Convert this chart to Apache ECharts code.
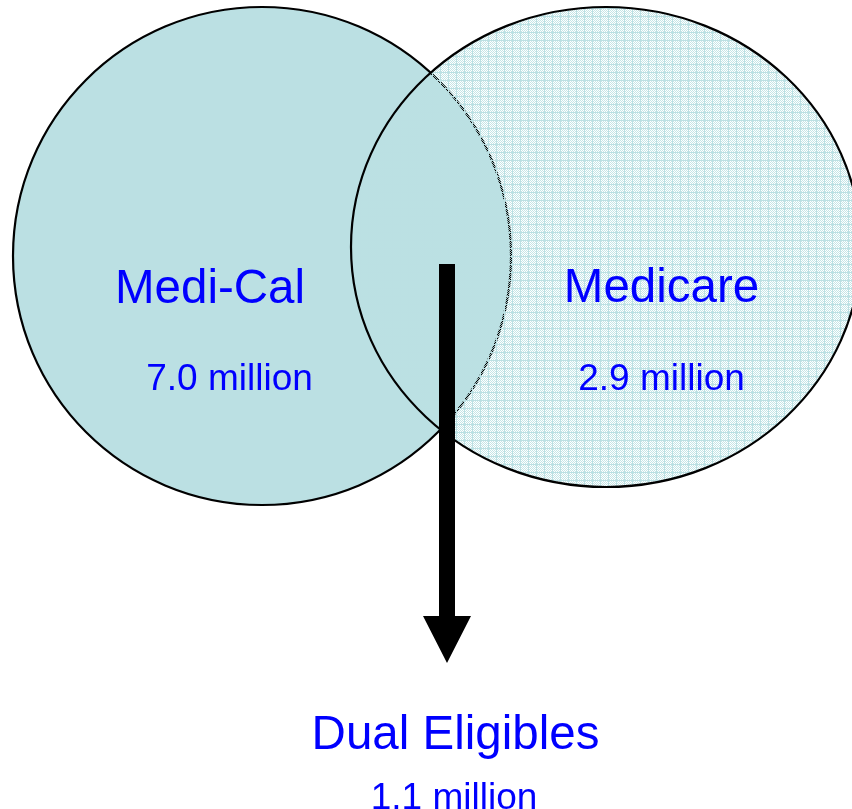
<!DOCTYPE html>
<html>
<head>
<meta charset="utf-8">
<script src="https://cdn.jsdelivr.net/npm/echarts@6/dist/echarts.min.js"></script>
<style>
html,body{margin:0;padding:0;background:#fff;}
#chart{width:852px;height:809px;}
</style>
</head>
<body>
<div id="chart"></div>
<script>
// ---- data ----
const setNames = ['Medi-Cal', 'Medicare'];
const setValues = [7.0, 2.9];
const overlapName = 'Dual Eligibles';
const overlapValue = 1.1;
const unitLabel = 'million';

// ---- layout (canvas units, kept apart from the data) ----
const W = 852, H = 809;
const circleLayout = [
  { cx: 262, cy: 256, rx: 249, ry: 249 },
  { cx: 606, cy: 247, rx: 255, ry: 240 }
];
const nameLayout = [[210, 290], [661.5, 289]];
const valueLayout = [[229.5, 379.5], [661.5, 379.5]];
const overlapNamePos = [455.5, 736];
const overlapValuePos = [454, 798.5];
const arrowLayout = { x: 447, top: 264, shaftHalf: 8, headTop: 616, headHalf: 24, tip: 663 };

const TEAL = '#BBE0E3';
const TEXT_BLUE = '#0000FF';
const FONT = '"Liberation Sans", Arial, sans-serif';

// pattern fill for the second set
function makePattern() {
  const c = document.createElement('canvas');
  c.width = 8; c.height = 8;
  const ctx = c.getContext('2d');
  for (let y = 0; y < 8; y++) {
    for (let x = 0; x < 8; x++) {
      if (x === 0 || y === 0) {
        ctx.fillStyle = 'rgba(187,224,227,1)';
        ctx.fillRect(x, y, 1, 1);
      } else if ((x + y) % 2 === 0) {
        ctx.fillStyle = 'rgba(187,224,227,0.85)';
        ctx.fillRect(x, y, 1, 1);
      }
    }
  }
  return c;
}
const patternCanvas = makePattern();

const chart = echarts.init(document.getElementById('chart'), null, { renderer: 'canvas' });

function fmt(v) { return v.toFixed(1) + ' ' + unitLabel; }

const seriesData = setNames.map((n, i) => ({ name: n, value: [i, setValues[i]] }));
seriesData.push({ name: overlapName, value: [2, overlapValue] });

function renderItem(params, api) {
  const idx = api.value(0);
  if (idx < 2) {
    const L = circleLayout[idx];
    const c = api.coord([L.cx, L.cy]);
    const s = api.size([L.rx, L.ry]);
    return {
      type: 'ellipse',
      shape: { cx: c[0], cy: c[1], rx: Math.abs(s[0]), ry: Math.abs(s[1]) },
      style: {
        fill: idx === 0 ? TEAL : { image: patternCanvas, repeat: 'repeat' },
        stroke: '#000',
        lineWidth: 2.2
      },
      z2: idx
    };
  }
  const A = arrowLayout;
  const pts = [
    [A.x - A.shaftHalf, A.top], [A.x + A.shaftHalf, A.top],
    [A.x + A.shaftHalf, A.headTop], [A.x + A.headHalf, A.headTop],
    [A.x, A.tip], [A.x - A.headHalf, A.headTop], [A.x - A.shaftHalf, A.headTop]
  ].map(p => api.coord(p));
  return {
    type: 'polygon',
    shape: { points: pts },
    style: { fill: '#000' },
    z2: 5
  };
}

function renderLabels(params, api) {
  const idx = api.value(0);
  const v = api.value(1);
  let np, vp, name;
  if (idx < 2) { np = nameLayout[idx]; vp = valueLayout[idx]; name = setNames[idx]; }
  else { np = overlapNamePos; vp = overlapValuePos; name = overlapName; }
  const a = api.coord(np), b = api.coord(vp);
  return {
    type: 'group',
    children: [
      { type: 'text', style: { text: name, x: a[0], y: a[1], fill: TEXT_BLUE, font: '47.5px ' + FONT, align: 'center', verticalAlign: 'middle' } },
      { type: 'text', style: { text: fmt(v), x: b[0], y: b[1], fill: TEXT_BLUE, font: '37px ' + FONT, align: 'center', verticalAlign: 'middle' } }
    ]
  };
}

chart.setOption({
  animation: false,
  backgroundColor: '#ffffff',
  grid: { left: 0, right: 0, top: 0, bottom: 0 },
  xAxis: { type: 'value', min: 0, max: W, show: false },
  yAxis: { type: 'value', min: 0, max: H, inverse: true, show: false },
  series: [
    { type: 'custom', renderItem: renderItem, data: seriesData, clip: false, z: 1 },
    { type: 'custom', renderItem: renderLabels, data: seriesData, clip: false, z: 2 }
  ]
});
</script>
</body>
</html>
